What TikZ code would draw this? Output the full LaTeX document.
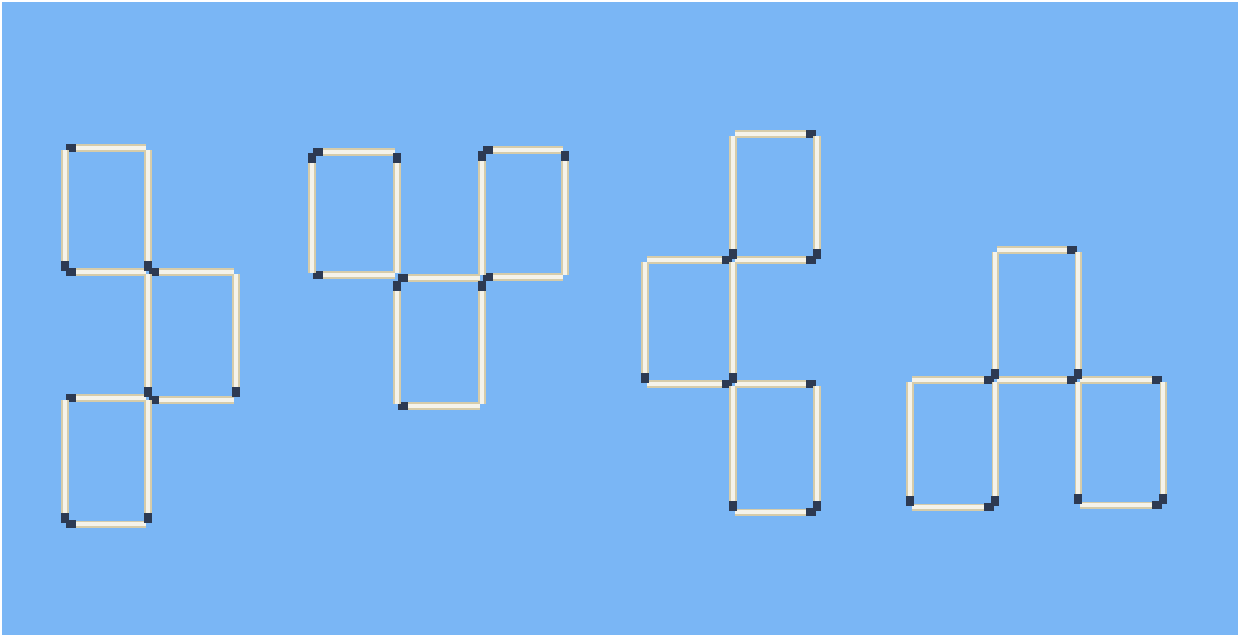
\documentclass[tikz,border=0pt]{standalone}
\usetikzlibrary{calc}
\definecolor{skyblue}{HTML}{7AB6F5}
\definecolor{stickedge}{HTML}{D6CCAA}
\definecolor{stickcore}{HTML}{F5F3EA}
\definecolor{headdark}{HTML}{2D3A52}

% one match: #1 = end with the head, #2 = other end
\newcommand{\match}[2]{%
  \draw[stick] ($#1!1.2pt!#2$) -- ($#2!1.2pt!#1$);
  \draw[stick head] ($#1!0.6pt!#2$) -- ($#1!6.0pt!#2$);
}

\begin{document}
\begin{tikzpicture}[
    x=0.02cm, y=-0.02cm,
    stick/.style={draw=stickedge, line width=4.0pt,
        postaction={draw=stickcore, line width=2.4pt}},
    stick head/.style={draw=headdark, line width=4.6pt},
]
\useasboundingbox (0,0) rectangle (1240,637);
\fill[white] (0,0) rectangle (1240,637);
\fill[skyblue] (2,2) rectangle (1238,635);

% === Figure 1 ===
\match{(65,148)}{(148,148)}
\match{(65,272)}{(148,272)}
\match{(148,272)}{(236,272)}
\match{(65,398)}{(148,398)}
\match{(148,400)}{(236,400)}
\match{(65,524)}{(148,524)}
\match{(65,272)}{(65,148)}
\match{(148,272)}{(148,148)}
\match{(148,398)}{(148,272)}
\match{(236,398)}{(236,272)}
\match{(65,524)}{(65,398)}
\match{(148,524)}{(148,398)}

% === Figure 2 ===
\match{(312,152)}{(397,152)}
\match{(312,275)}{(397,275)}
\match{(482,150)}{(565,150)}
\match{(482,277)}{(565,277)}
\match{(397,278)}{(482,278)}
\match{(397,406)}{(482,406)}
\match{(312,152)}{(312,275)}
\match{(397,152)}{(397,275)}
\match{(482,150)}{(482,277)}
\match{(565,150)}{(565,277)}
\match{(397,280)}{(397,406)}
\match{(482,280)}{(482,406)}

% === Figure 3 ===
\match{(817,134)}{(733,134)}
\match{(817,260)}{(733,260)}
\match{(733,260)}{(645,260)}
\match{(733,384)}{(645,384)}
\match{(817,384)}{(733,384)}
\match{(817,512)}{(733,512)}
\match{(733,260)}{(733,134)}
\match{(817,260)}{(817,134)}
\match{(645,384)}{(645,260)}
\match{(733,384)}{(733,260)}
\match{(733,512)}{(733,384)}
\match{(817,512)}{(817,384)}

% === Figure 4 ===
\match{(1078,250)}{(995,250)}
\match{(995,380)}{(910,380)}
\match{(1078,380)}{(995,380)}
\match{(1163,380)}{(1078,380)}
\match{(995,507)}{(910,507)}
\match{(1163,505)}{(1078,505)}
\match{(995,380)}{(995,250)}
\match{(1078,380)}{(1078,250)}
\match{(910,507)}{(910,380)}
\match{(995,507)}{(995,380)}
\match{(1078,505)}{(1078,380)}
\match{(1163,505)}{(1163,380)}

\end{tikzpicture}
\end{document}
